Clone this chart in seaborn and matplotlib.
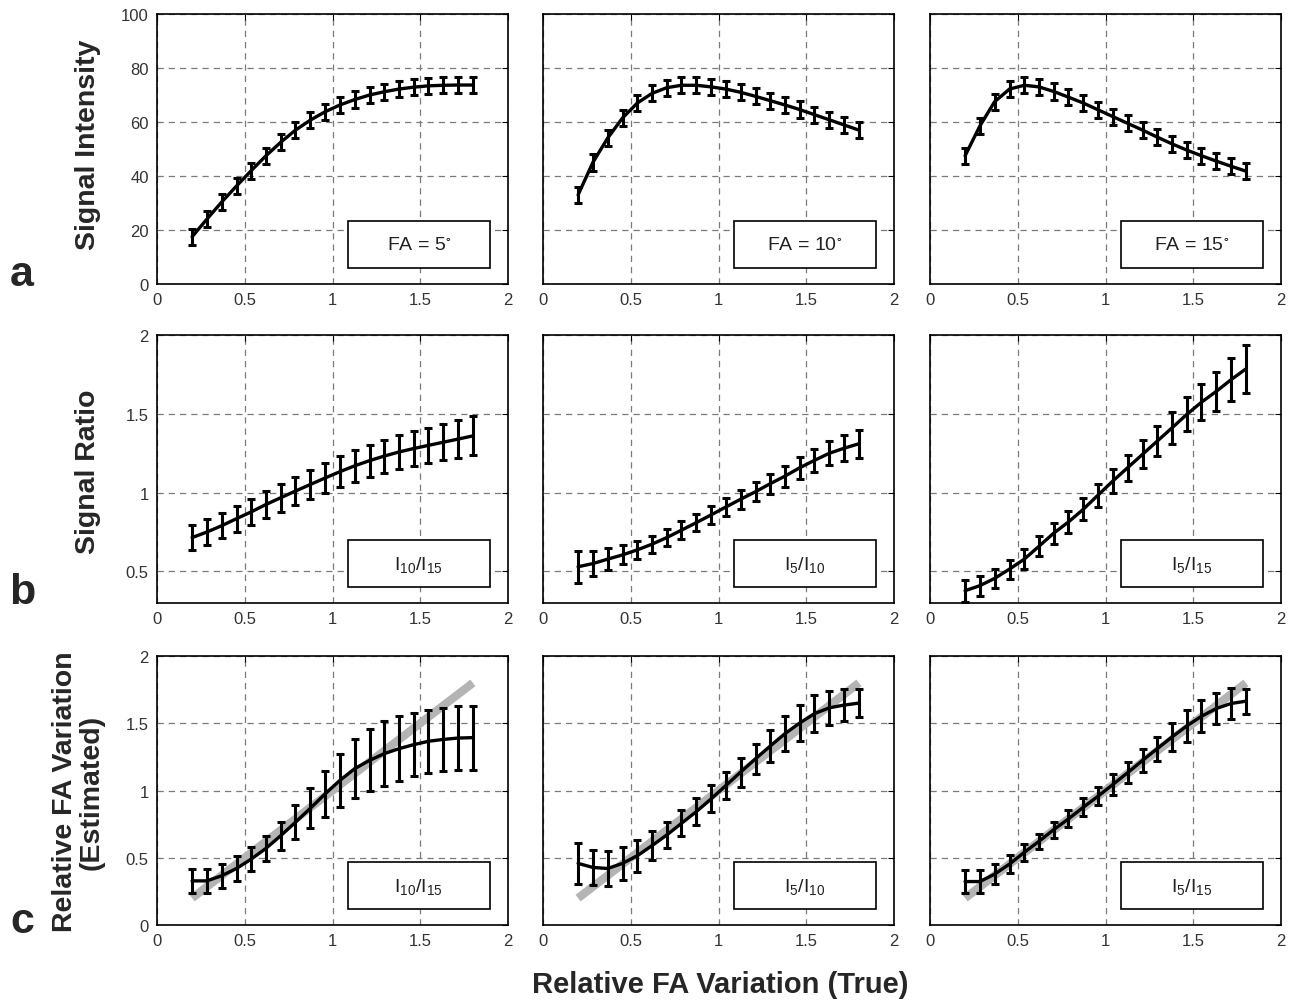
import numpy as np
import pandas as pd
import matplotlib
matplotlib.use("Agg")
import matplotlib.pyplot as plt
import seaborn as sns
from matplotlib.patches import Rectangle

# x positions (relative FA variation, true)
fa_true = [0.2, 0.284, 0.368, 0.453, 0.537, 0.621, 0.705, 0.789, 0.874, 0.958,
           1.042, 1.126, 1.211, 1.295, 1.379, 1.463, 1.547, 1.632, 1.716, 1.8]

# row a - signal intensity
sig_fa5 = [17.5, 24, 30.3, 36.3, 42, 47.5, 52.5, 57, 60.7, 63.8,
           66.3, 68.3, 70, 71.2, 72.2, 72.9, 73.4, 73.6, 73.7, 73.7]
sig_fa10 = [33, 45, 54, 61.5, 67, 70.6, 72.7, 73.6, 73.6, 73,
            72.2, 71, 69.5, 67.9, 66.3, 64.6, 62.7, 60.8, 58.9, 57]
sig_fa15 = [47.5, 58.5, 67.5, 72.2, 73.6, 73, 71.3, 69.2, 67, 64.5,
            62, 59.5, 57, 54.4, 51.9, 49.6, 47.5, 45.5, 43.6, 41.8]
sig_err = 3.0

# row b - signal ratio
ratio_10_15 = [0.715, 0.75, 0.79, 0.835, 0.878, 0.925, 0.968, 1.01, 1.052, 1.093,
               1.133, 1.17, 1.203, 1.232, 1.258, 1.28, 1.30, 1.32, 1.34, 1.36]
ratio_10_15_err = [0.08, 0.08, 0.08, 0.082, 0.084, 0.086, 0.088, 0.09, 0.092, 0.095,
                   0.097, 0.1, 0.102, 0.105, 0.108, 0.11, 0.113, 0.116, 0.12, 0.124]
ratio_5_10 = [0.53, 0.55, 0.578, 0.605, 0.637, 0.673, 0.715, 0.762, 0.81, 0.859,
              0.909, 0.958, 1.006, 1.057, 1.105, 1.158, 1.205, 1.25, 1.282, 1.31]
ratio_5_10_err = [0.1, 0.08, 0.068, 0.06, 0.057, 0.055, 0.055, 0.055, 0.056, 0.057,
                  0.058, 0.06, 0.062, 0.064, 0.067, 0.07, 0.073, 0.077, 0.081, 0.088]
ratio_5_15 = [0.378, 0.41, 0.456, 0.515, 0.578, 0.66, 0.743, 0.814, 0.895, 0.985,
              1.074, 1.158, 1.243, 1.327, 1.411, 1.496, 1.574, 1.643, 1.717, 1.785]
ratio_5_15_err = [0.07, 0.063, 0.06, 0.06, 0.062, 0.064, 0.066, 0.068, 0.07, 0.073,
                  0.077, 0.082, 0.088, 0.094, 0.1, 0.108, 0.116, 0.125, 0.135, 0.15]

# row c - estimated FA variation
est_10_15 = [0.328, 0.328, 0.366, 0.42, 0.49, 0.57, 0.664, 0.764, 0.868, 0.975,
             1.075, 1.162, 1.224, 1.274, 1.311, 1.341, 1.366, 1.38, 1.39, 1.393]
est_10_15_err = [0.09, 0.09, 0.09, 0.09, 0.09, 0.095, 0.105, 0.125, 0.15, 0.17,
                 0.2, 0.22, 0.23, 0.24, 0.24, 0.235, 0.235, 0.236, 0.236, 0.238]
est_5_10 = [0.458, 0.428, 0.42, 0.458, 0.515, 0.59, 0.669, 0.756, 0.843, 0.938,
            1.037, 1.137, 1.236, 1.331, 1.423, 1.502, 1.572, 1.615, 1.635, 1.65]
est_5_10_err = [0.155, 0.13, 0.13, 0.125, 0.118, 0.106, 0.1, 0.097, 0.1, 0.1,
                0.1, 0.108, 0.112, 0.118, 0.133, 0.137, 0.137, 0.128, 0.118, 0.102]
est_5_15 = [0.323, 0.323, 0.378, 0.453, 0.54, 0.622, 0.709, 0.789, 0.876, 0.958,
            1.045, 1.132, 1.224, 1.311, 1.398, 1.48, 1.552, 1.61, 1.647, 1.664]
est_5_15_err = [0.083, 0.083, 0.075, 0.068, 0.062, 0.058, 0.06, 0.063, 0.065, 0.068,
                0.075, 0.078, 0.086, 0.088, 0.106, 0.12, 0.118, 0.112, 0.112, 0.093]

identity_x = [0.2, 1.8]
identity_y = [0.2, 1.8]

panel_labels = [[r"FA = 5$^{\circ}$", r"FA = 10$^{\circ}$", r"FA = 15$^{\circ}$"],
                [r"I$_{10}$/I$_{15}$", r"I$_{5}$/I$_{10}$", r"I$_{5}$/I$_{15}$"],
                [r"I$_{10}$/I$_{15}$", r"I$_{5}$/I$_{10}$", r"I$_{5}$/I$_{15}$"]]

series = [[(sig_fa5, sig_err), (sig_fa10, sig_err), (sig_fa15, sig_err)],
          [(ratio_10_15, ratio_10_15_err), (ratio_5_10, ratio_5_10_err), (ratio_5_15, ratio_5_15_err)],
          [(est_10_15, est_10_15_err), (est_5_10, est_5_10_err), (est_5_15, est_5_15_err)]]

sns.set_style("white")
plt.rcParams["font.family"] = ["Liberation Sans", "DejaVu Sans"]
plt.rcParams["mathtext.default"] = "regular"

fig = plt.figure(figsize=(13.02, 10.03), dpi=100)
W, H = 1302.0, 1003.0
col_left = [157, 543, 930]
row_top = [15, 336, 657]
row_bot = [285, 604, 926]
ax_w = 351

ylims = [(0, 100), (0.3, 2), (0, 2)]
yticks = [[0, 20, 40, 60, 80, 100], [0.5, 1, 1.5, 2], [0, 0.5, 1, 1.5, 2]]
ytick_lbl = [["0", "20", "40", "60", "80", "100"], ["0.5", "1", "1.5", "2"],
             ["0", "0.5", "1", "1.5", "2"]]

for r in range(3):
    for c in range(3):
        ax = fig.add_axes([col_left[c] / W, 1 - row_bot[r] / H, ax_w / W,
                           (row_bot[r] - row_top[r]) / H])
        y, err = series[r][c]
        if r == 2:
            ideal = pd.DataFrame({"x": identity_x, "y": identity_y})
            sns.lineplot(data=ideal, x="x", y="y", ax=ax, color="#b4b4b4",
                         lw=6, solid_capstyle="butt", zorder=2)
        df = pd.DataFrame({"x": fa_true, "y": y})
        sns.lineplot(data=df, x="x", y="y", ax=ax, color="black", lw=2.4, zorder=3)
        ax.errorbar(fa_true, y, yerr=err, fmt="none", ecolor="black",
                    elinewidth=2.2, capsize=3, capthick=2.2, zorder=4)
        ax.set_xlim(0, 2)
        ax.set_ylim(*ylims[r])
        ax.set_xticks([0, 0.5, 1, 1.5, 2])
        ax.set_xticklabels(["0", "0.5", "1", "1.5", "2"])
        ax.set_yticks(yticks[r])
        if c == 0:
            ax.set_yticklabels(ytick_lbl[r])
        else:
            ax.set_yticklabels([])
        ax.set_xlabel("")
        ax.set_ylabel("")
        ax.grid(True, linestyle=(0, (5, 4)), color="#7a7a7a", lw=0.9)
        ax.set_axisbelow(True)
        ax.tick_params(direction="in", top=True, right=True, length=4,
                       labelsize=12, colors="black", labelcolor="#333333", pad=6)
        for s in ax.spines.values():
            s.set_color("black")
            s.set_linewidth(1.2)
        # label box
        ax.add_patch(Rectangle((0.544, 0.06), 0.405, 0.175, transform=ax.transAxes,
                               facecolor="white", edgecolor="black", lw=1.2, zorder=5))
        ax.text(0.746, 0.145, panel_labels[r][c], transform=ax.transAxes,
                ha="center", va="center", fontsize=14, color="#222222", zorder=6)

bold_font = ["Liberation Sans Narrow", "Liberation Sans", "DejaVu Sans"]
fig.text(88 / W, 1 - 145 / H, "Signal Intensity", rotation=90, ha="center", va="center",
         fontsize=20.5, fontweight="bold", family=bold_font)
fig.text(88 / W, 1 - 472 / H, "Signal Ratio", rotation=90, ha="center", va="center",
         fontsize=20.5, fontweight="bold", family=bold_font)
fig.text(78 / W, 1 - 792 / H, "Relative FA Variation\n(Estimated)", rotation=90,
         ha="center", va="center", fontsize=20.5, fontweight="bold", family=bold_font,
         linespacing=1.05)
fig.text(720 / W, 1 - 985 / H, "Relative FA Variation (True)", ha="center", va="center",
         fontsize=21, fontweight="bold", family=bold_font)
for lbl, yy in zip(["a", "b", "c"], [275, 593, 922]):
    fig.text(22 / W, 1 - yy / H, lbl, ha="center", va="center", fontsize=31,
             fontweight="bold", family=["Liberation Sans", "DejaVu Sans"])

fig.savefig("out.png", dpi=100)
